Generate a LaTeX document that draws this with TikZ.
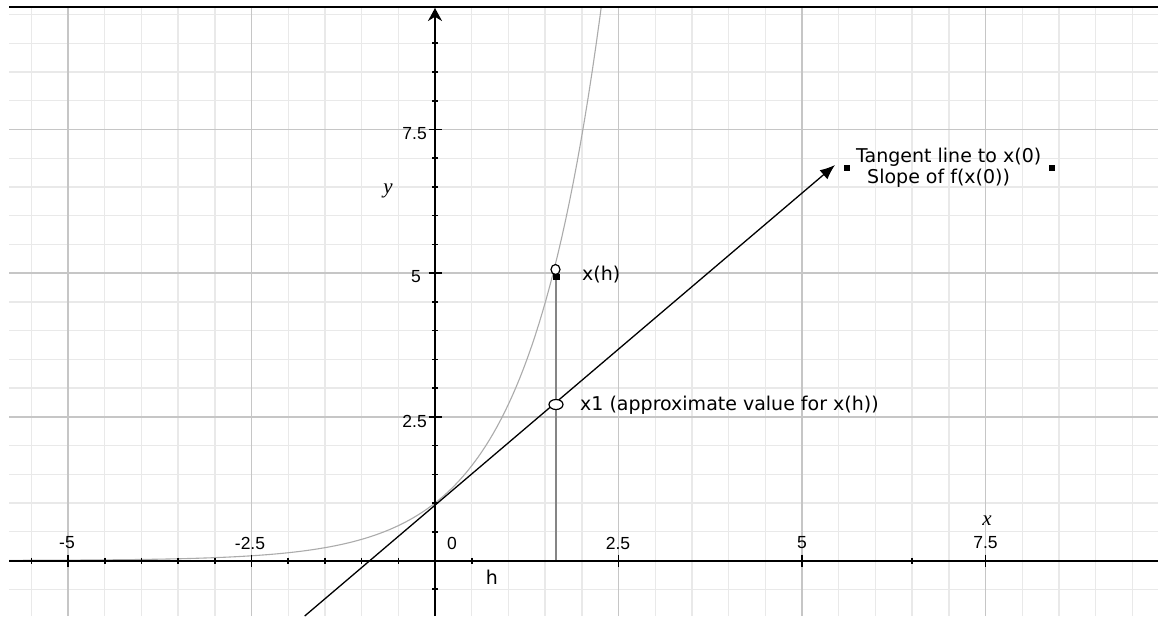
\documentclass[tikz,border=0pt]{standalone}
\usepackage{fontspec}
\setmainfont{DejaVu Sans}
\newfontfamily\tickfont{Liberation Sans}
\newfontfamily\axfont{Liberation Serif}
\usetikzlibrary{arrows.meta,shapes.geometric}
\definecolor{gridminor}{HTML}{E9E9E9}
\definecolor{gridmajor}{HTML}{C6C6C6}
\definecolor{curvegray}{HTML}{ABABAB}
\definecolor{vgray}{HTML}{858585}
\begin{document}
\begin{tikzpicture}[x=1pt,y=-1pt,
  minorgrid/.style={draw=gridminor, line width=1.4pt},
  majorgrid/.style={draw=gridmajor, line width=1.4pt},
  axisline/.style={line width=2pt, draw=black},
  tickmark/.style={line width=1.6pt, draw=black},
  ticklabel/.style={font=\tickfont\fontsize{17.5}{19}\selectfont, inner sep=0pt},
  lbl/.style={font=\fontsize{19}{21}\selectfont, inner sep=0pt, anchor=west},
  axlbl/.style={font=\axfont\itshape\fontsize{21}{24}\selectfont, inner sep=0pt},
  marker/.style={fill=black, minimum size=6pt, inner sep=0pt},
  openpt/.style={draw=black, fill=white, line width=1.2pt, ellipse, inner sep=0pt},
  curveline/.style={draw=curvegray, line width=1.1pt},
  tangentline/.style={draw=black, line width=1.3pt, -{Latex[length=15pt,width=12pt]}}
]
\useasboundingbox (0,0) rectangle (1158,616);
\fill[white] (0,0) rectangle (1158,616);

% grid
\foreach \k in {-11,...,19}
  \draw[minorgrid] ({435+36.7*\k},8) -- ({435+36.7*\k},616);
\foreach \k in {-1,...,19}
  \draw[minorgrid] (9,{560.5-28.735*\k}) -- (1158,{560.5-28.735*\k});
\foreach \k in {-10,-5,5,10,15}
  \draw[majorgrid] ({435+36.7*\k},8) -- ({435+36.7*\k},616);
\foreach \k in {5,10,15}
  \draw[majorgrid] (9,{560.5-28.735*\k}) -- (1158,{560.5-28.735*\k});

% top frame
\coordinate (fl) at (9,7);
\coordinate (fr) at (1158,7);
\draw[line width=1.8pt] (fl) -- (fr);

% curve e^x
\begin{scope}
  \clip (9,8) rectangle (1158,616);
  \draw[curveline] plot[domain=-5.95:2.3, samples=160] ({435+73.4*\x},{560.5-57.47*exp(\x)});
\end{scope}

% vertical segment at h
\coordinate (hb) at (556,560.5);
\node[marker, minimum width=7pt, minimum height=6pt] (sq) at (556,277) {};
\draw[draw=vgray, line width=2.5pt] (hb) -- (sq.south);

% tangent line
\coordinate (tb) at (304.7,616);
\coordinate (tt) at (835,165);
\draw[tangentline] (tb) -- (tt);

% axes
\coordinate (xl) at (9,560.5);
\coordinate (xr) at (1158,560.5);
\coordinate (yb) at (435,616);
\coordinate (yt) at (435,8);
\draw[axisline] (xl) -- (xr);
\draw[axisline, -{Stealth[length=13pt,width=14pt]}] (yb) -- (yt);

% ticks
\foreach \k in {-11,...,-1,1,...,19}
  \draw[tickmark] ({435+36.7*\k},557.5) -- ({435+36.7*\k},563.5);
\foreach \k in {-10,-5,5,10,15}
  \draw[tickmark] ({435+36.7*\k},554.5) -- ({435+36.7*\k},566.5);
\foreach \k in {-1,1,2,...,18}
  \draw[tickmark] (432,{560.5-28.735*\k}) -- (438,{560.5-28.735*\k});
\foreach \k in {5,10,15}
  \draw[tickmark] (428.5,{560.5-28.735*\k}) -- (441.5,{560.5-28.735*\k});

% tick labels
\node[ticklabel] (tm5) at (67,543) {-5};
\node[ticklabel] (tm25) at (250,543) {-2.5};
\node[ticklabel] (t0) at (452,543) {0};
\node[ticklabel] (t25) at (618,543) {2.5};
\node[ticklabel] (t5) at (802,543) {5};
\node[ticklabel] (t75) at (985.5,543) {7.5};
\node[ticklabel, anchor=east] (ty25) at (427,421) {2.5};
\node[ticklabel, anchor=east] (ty5) at (421,277) {5};
\node[ticklabel, anchor=east] (ty75) at (427,134) {7.5};

% axis names
\node[axlbl] (xname) at (987,521) {x};
\node[axlbl] (yname) at (388,191) {y};
\node[lbl, anchor=center] (hname) at (492,577) {h};

% points
\node[openpt, minimum width=9pt, minimum height=10pt] (xh) at (555.5,269.5) {};
\node[openpt, minimum width=14pt, minimum height=10pt] (x1) at (556,404.5) {};

% labels
\node[lbl] (lxh) at (582,275) {x(h)};
\node[lbl] (lx1) at (580,405) {x1 (approximate value for x(h))};
\node[marker] (m1) at (847,168) {};
\node[marker] (m2) at (1052,168) {};
\node[lbl, align=left] (ltan) at (856,167.5) {Tangent line to x(0)\\\hspace*{11pt}Slope of f(x(0))};
\end{tikzpicture}
\end{document}
